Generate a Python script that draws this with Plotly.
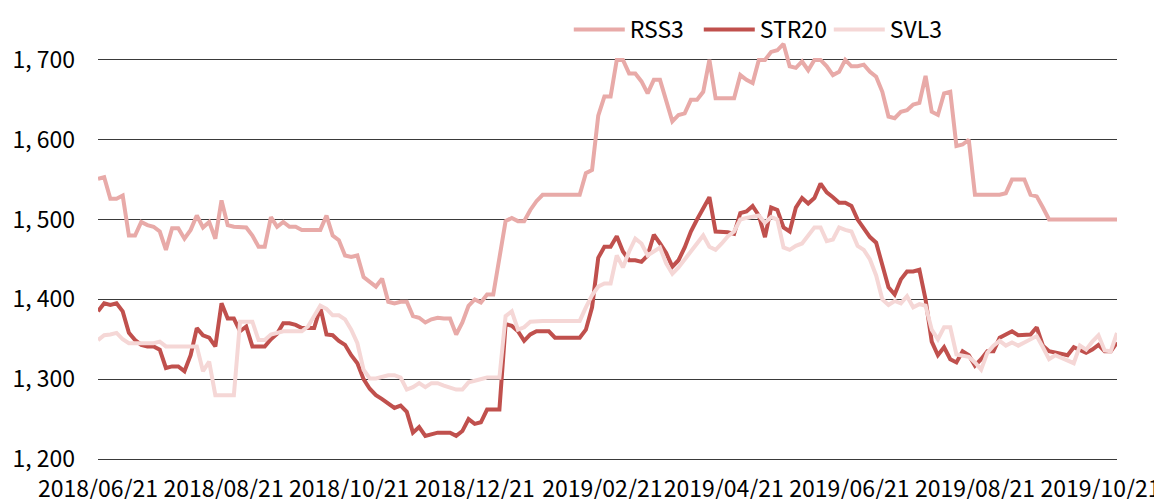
import pandas as pd
import plotly.graph_objects as go

start_date = "2018-06-21"
n_points = 166  # one reading every 3 days

rss3 = [
    1551, 1553, 1526, 1526, 1530, 1480, 1480, 1497, 1493, 1491,
    1485, 1462, 1489, 1489, 1476, 1487, 1505, 1490, 1497, 1476,
    1524, 1493, 1491, 1491, 1490, 1480, 1466, 1466, 1503, 1491,
    1497, 1491, 1491, 1487, 1487, 1487, 1487, 1505, 1480, 1474,
    1455, 1453, 1455, 1428, 1422, 1416, 1426, 1397, 1395, 1397,
    1397, 1379, 1377, 1371, 1375, 1377, 1376, 1376, 1356, 1371,
    1392, 1400, 1396, 1406, 1406, 1450, 1498, 1502, 1498, 1498,
    1512, 1523, 1531, 1531, 1531, 1531, 1531, 1531, 1531, 1558,
    1562, 1630, 1654, 1654, 1700, 1700, 1683, 1683, 1673, 1658,
    1675, 1675, 1648, 1623, 1631, 1633, 1650, 1650, 1660, 1700,
    1652, 1652, 1652, 1652, 1681, 1675, 1671, 1700, 1700, 1710,
    1712, 1720, 1692, 1690, 1698, 1687, 1700, 1700, 1692, 1681,
    1685, 1700, 1692, 1692, 1694, 1685, 1679, 1660, 1629, 1627,
    1635, 1637, 1644, 1646, 1680, 1635, 1631, 1658, 1660, 1592,
    1594, 1600, 1531, 1531, 1531, 1531, 1531, 1533, 1550, 1550,
    1550, 1531, 1529, 1515, 1500, 1500, 1500, 1500, 1500, 1500,
    1500, 1500, 1500, 1500, 1500, 1500,
]

str20 = [
    1385, 1395, 1393, 1395, 1385, 1358, 1349, 1343, 1341, 1341,
    1337, 1314, 1316, 1316, 1310, 1330, 1364, 1355, 1352, 1341,
    1395, 1376, 1376, 1360, 1366, 1341, 1341, 1341, 1350, 1357,
    1370, 1370, 1368, 1364, 1364, 1364, 1390, 1356, 1355, 1348,
    1343, 1330, 1320, 1300, 1288, 1280, 1275, 1270, 1264, 1267,
    1259, 1233, 1240, 1229, 1231, 1233, 1233, 1233, 1229, 1235,
    1250, 1244, 1246, 1262, 1262, 1262, 1369, 1367, 1360, 1348,
    1356, 1360, 1360, 1360, 1352, 1352, 1352, 1352, 1352, 1362,
    1390, 1452, 1466, 1466, 1479, 1460, 1449, 1449, 1447, 1455,
    1481, 1470, 1458, 1441, 1449, 1465, 1485, 1500, 1515, 1528,
    1485, 1485, 1484, 1482, 1508, 1510, 1517, 1505, 1478, 1515,
    1512, 1490, 1485, 1515, 1527, 1520, 1527, 1545, 1534, 1528,
    1521, 1521, 1517, 1500, 1490, 1478, 1471, 1445, 1415, 1406,
    1425, 1435, 1435, 1437, 1400, 1347, 1330, 1340, 1325, 1321,
    1335, 1330, 1317, 1325, 1335, 1335, 1352, 1356, 1360, 1355,
    1356, 1356, 1365, 1342, 1335, 1333, 1331, 1330, 1340, 1336,
    1333, 1337, 1343, 1335, 1335, 1346,
]

svl3 = [
    1349, 1355, 1356, 1358, 1350, 1345, 1345, 1345, 1345, 1345,
    1347, 1341, 1341, 1341, 1341, 1341, 1341, 1310, 1322, 1280,
    1280, 1280, 1280, 1372, 1372, 1372, 1349, 1349, 1356, 1358,
    1360, 1360, 1360, 1360, 1366, 1378, 1392, 1388, 1380, 1380,
    1375, 1362, 1345, 1312, 1301, 1301, 1303, 1305, 1305, 1302,
    1287, 1290, 1295, 1290, 1295, 1295, 1292, 1290, 1287, 1287,
    1296, 1298, 1300, 1302, 1302, 1302, 1379, 1385, 1362, 1365,
    1372, 1373, 1373, 1373, 1373, 1373, 1373, 1373, 1373, 1390,
    1405, 1416, 1420, 1420, 1455, 1440, 1460, 1476, 1470, 1455,
    1460, 1465, 1445, 1432, 1440, 1450, 1458, 1470, 1480, 1466,
    1462, 1470, 1479, 1485, 1500, 1502, 1504, 1505, 1496, 1503,
    1500, 1465, 1462, 1467, 1470, 1480, 1490, 1490, 1473, 1475,
    1490, 1487, 1485, 1467, 1462, 1450, 1430, 1400, 1393, 1398,
    1395, 1404, 1390, 1394, 1392, 1362, 1350, 1365, 1365, 1331,
    1330, 1328, 1321, 1312, 1333, 1342, 1348, 1342, 1346, 1342,
    1346, 1350, 1354, 1340, 1325, 1330, 1327, 1323, 1320, 1342,
    1337, 1347, 1355, 1336, 1335, 1358,
]

x_tick_dates = ["2018-06-21", "2018-08-21", "2018-10-21", "2018-12-21", "2019-02-21",
                "2019-04-21", "2019-06-21", "2019-08-21", "2019-10-21"]
x_tick_labels = ["2018/06/21", "2018/08/21", "2018/10/21", "2018/12/21", "2019/02/21",
                 "2019/04/21", "2019/06/21", "2019/08/21", "2019/10/21"]
y_tick_vals = [1200, 1300, 1400, 1500, 1600, 1700]
y_tick_labels = ["1, 200", "1, 300", "1, 400", "1, 500", "1, 600", "1, 700"]

dates = pd.date_range(start_date, periods=n_points, freq="3D")

FONT = "Noto Sans CJK SC"
FSIZE = 23
fig = go.Figure()
series = [
    ("RSS3", rss3, "#E8AAA8"),
    ("STR20", str20, "#C0504D"),
    ("SVL3", svl3, "#F5D7D6"),
]
for name, vals, color in series:
    fig.add_trace(go.Scatter(
        x=dates[:len(vals)], y=vals, name=name, mode="lines",
        line=dict(color=color, width=4),
    ))

# page body adds an 8px offset, so the figure is sized 8px smaller
fig.update_layout(
    width=1154, height=491,
    margin=dict(l=90, r=45, t=0, b=39.5),
    plot_bgcolor="white", paper_bgcolor="white",
    font=dict(family=FONT, size=FSIZE, color="#000000"),
    showlegend=True,
    legend=dict(
        orientation="h", x=0.462, xanchor="left", y=1.0, yanchor="top",
        bgcolor="rgba(0,0,0,0)", font=dict(family=FONT, size=FSIZE),
        itemwidth=51, entrywidth=64, entrywidthmode="pixels", tracegroupgap=0,
    ),
)
fig.update_xaxes(
    type="date",
    range=[dates[0], dates[-1]],
    tickvals=x_tick_dates, ticktext=x_tick_labels, tickangle=0,
    ticklabeloverflow="allow", automargin=False,
    showgrid=False, showline=True, linecolor="#3a3a3a", linewidth=1.3,
    ticks="", ticklabelstandoff=9,
    tickfont=dict(family=FONT, size=FSIZE, color="#000000"),
)
fig.update_yaxes(
    range=[1200, 1765], automargin=False,
    tickvals=y_tick_vals, ticktext=y_tick_labels,
    showgrid=True, gridcolor="#3a3a3a", gridwidth=1.3,
    zeroline=False, showline=False, ticks="", ticklabelstandoff=22,
    tickfont=dict(family=FONT, size=FSIZE, color="#000000"),
)

fig.write_html("out.html")
